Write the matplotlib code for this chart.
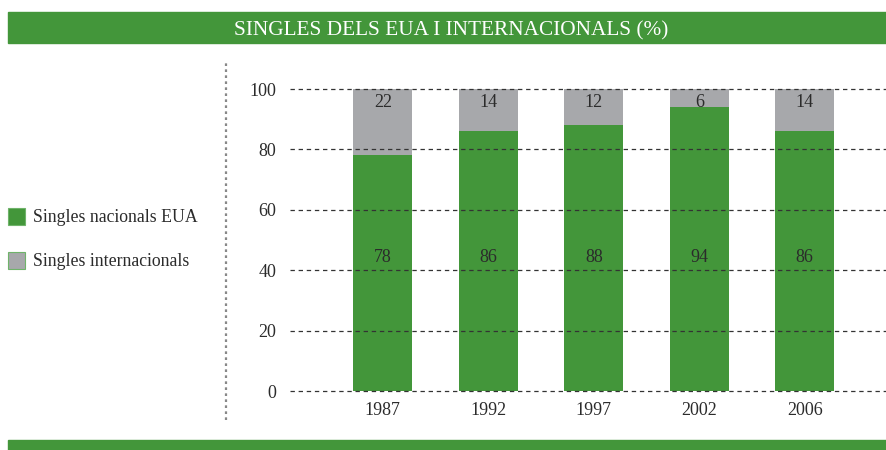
import matplotlib
matplotlib.use("Agg")
import matplotlib.pyplot as plt
from matplotlib.patches import Rectangle

years = ["1987", "1992", "1997", "2002", "2006"]
nacionals = [78, 86, 88, 94, 86]
internacionals = [22, 14, 12, 6, 14]
yticks = [0, 20, 40, 60, 80, 100]

GREEN = "#43963a"
GRAY = "#a7a8ab"
TXT = "#2b2b2b"
FS = 13

plt.rcParams["font.family"] = ["Liberation Serif", "DejaVu Serif"]

fig = plt.figure(figsize=(8.86, 4.5), dpi=100)

# title band and bottom band
fig.patches.append(Rectangle((8 / 886, 1 - 43 / 450), 878 / 886, 31 / 450,
                             transform=fig.transFigure, color=GREEN, zorder=0))
fig.text(451 / 886, 1 - 35 / 450, "SINGLES DELS EUA I INTERNACIONALS (%)",
         color="white", fontsize=15.3, ha="center", va="baseline",
         transform=fig.transFigure)
fig.patches.append(Rectangle((8 / 886, 0), 878 / 886, 10 / 450,
                             transform=fig.transFigure, color=GREEN, zorder=0))
# dotted vertical separator
fig.add_artist(plt.Line2D([226 / 886, 226 / 886], [1 - 420 / 450, 1 - 60 / 450],
                          transform=fig.transFigure, color="#888888", lw=1.6,
                          linestyle=(0, (1.2, 1.5))))

# legend
for i, (lab, col) in enumerate([("Singles nacionals EUA", GREEN), ("Singles internacionals", GRAY)]):
    yc = 216 + i * 44
    fig.patches.append(Rectangle((8 / 886, 1 - (yc + 8.5) / 450), 17 / 886, 17 / 450,
                                 transform=fig.transFigure, facecolor=col,
                                 edgecolor="#6fb36a", lw=0.8))
    fig.text(33 / 886, 1 - (yc + 1) / 450, lab, fontsize=12.8, color=TXT, va="center")

ax = fig.add_axes([290 / 886, 1 - 391 / 450, 596 / 886, 302 / 450])
x = list(range(len(years)))
ax.bar(x, nacionals, width=0.56, color=GREEN, zorder=1)
ax.bar(x, internacionals, width=0.56, bottom=nacionals, color=GRAY, zorder=1)
for v in yticks:
    ax.axhline(v, color="#333333", lw=0.9, linestyle=(0, (3.5, 3)), zorder=3, clip_on=False)
for xi, a, b in zip(x, nacionals, internacionals):
    ax.text(xi, 44.3, str(a), ha="center", va="center", fontsize=FS, color=TXT, zorder=4)
    ax.text(xi, 95.6, str(b), ha="center", va="center", fontsize=FS, color=TXT, zorder=4)

ax.set_xlim(-0.88, 4.77)
ax.set_ylim(0, 100)
ax.set_xticks(x)
ax.set_xticklabels(years)
ax.set_yticks(yticks)
ax.tick_params(length=0, labelsize=FS, labelcolor=TXT)
ax.tick_params(axis="x", pad=8)
ax.tick_params(axis="y", pad=10)
for s in ax.spines.values():
    s.set_visible(False)

fig.savefig("out.png", dpi=100)
